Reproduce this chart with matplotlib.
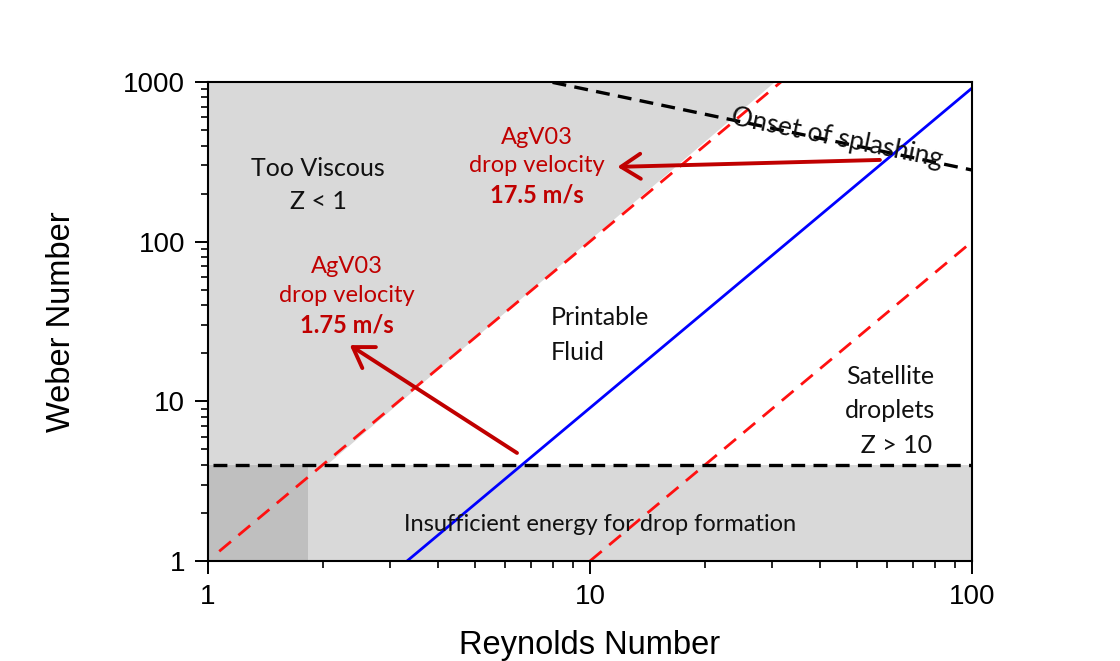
import matplotlib
matplotlib.use("Agg")
import matplotlib.pyplot as plt
from matplotlib.patches import Polygon, Rectangle
from matplotlib.ticker import LogLocator, NullFormatter, FixedLocator, FixedFormatter

# ---------------- data ----------------
# Z = 1 boundary (We = Re^2), red dashed
z1_re = [1.07, 31.6]
z1_we = [1.15, 1000]
# printable boundary, blue solid
blue_re = [3.32, 100]
blue_we = [1.0, 916]
# Z = 10 boundary, red dashed
z10_re = [10, 100]
z10_we = [1.0, 100]
# minimum Weber number for drop formation, black dashed
we_min_re = [1.03, 100]
we_min_we = [4, 4]
# onset of splashing, black dashed
splash_re = [7.0, 100]
splash_we = [1062, 281]

# shaded regions
viscous_re = [1, 2.05, 30.5, 1]
viscous_we = [4, 4, 1000, 1000]
energy_re = [1, 100]
energy_we = [1, 4]
dark_re = [1, 1.83]
dark_we = [1, 4]

# arrows (tail -> head)
arrow1_tail = (6.44, 4.75)
arrow1_head = (2.35, 22.5)
arrow2_tail = (57.4, 325)
arrow2_head = (11.8, 294)

x_ticks = [1, 10, 100]
x_labels = ["1", "10", "100"]
y_ticks = [1, 10, 100, 1000]
y_labels = ["1", "10", "100", "1000"]

# ---------------- figure ----------------
plt.rcParams['lines.scale_dashes'] = False
fig = plt.figure(figsize=(11.2, 6.61), dpi=100)
ax = fig.add_axes([208/1120, 100/661, 764/1120, 479/661])
ax.set_xscale('log')
ax.set_yscale('log')
ax.set_xlim(1, 100)
ax.set_ylim(1, 1000)

light = '#D9D9D9'
dark = '#BFBFBF'
ax.add_patch(Polygon(list(zip(viscous_re, viscous_we)), closed=True,
                     facecolor=light, edgecolor='none', zorder=0))
ax.add_patch(Rectangle((energy_re[0], energy_we[0]), energy_re[1]-energy_re[0],
                       energy_we[1]-energy_we[0], facecolor=light,
                       edgecolor='none', zorder=0))
ax.add_patch(Rectangle((dark_re[0], dark_we[0]), dark_re[1]-dark_re[0],
                       dark_we[1]-dark_we[0], facecolor=dark,
                       edgecolor='none', zorder=0.5))

red = '#FF1010'
dred = '#C00000'
ax.plot(z1_re, z1_we, color=red, lw=2.0, dashes=(11, 7), zorder=2)
ax.plot(z10_re, z10_we, color=red, lw=2.0, dashes=(11, 7), zorder=2)
ax.plot(blue_re, blue_we, color='#0000FF', lw=2.0, zorder=2)
ax.plot(we_min_re, we_min_we, color='black', lw=2.4, dashes=(10, 6), zorder=3)
ax.plot(splash_re, splash_we, color='black', lw=2.4, dashes=(10, 6), zorder=3)

for tail, head in [(arrow1_tail, arrow1_head), (arrow2_tail, arrow2_head)]:
    ax.annotate('', xy=head, xytext=tail,
                arrowprops=dict(arrowstyle='->,head_length=0.7,head_width=0.45',
                                color=dred, lw=2.8, shrinkA=0, shrinkB=0,
                                mutation_scale=20),
                zorder=4)

# ---------------- text ----------------
tfont = 'Lato'
ts = 18
ax.text(1.94, 226, 'Too Viscous\nZ < 1', fontsize=ts, family=tfont,
        ha='center', va='center', linespacing=1.55, color='#111111', zorder=5)
ax.text(7.27, 452, 'AgV03', fontsize=17, family=tfont,
        ha='center', va='center', color=dred, zorder=5)
ax.text(7.27, 298, 'drop velocity', fontsize=17, family=tfont,
        ha='center', va='center', color=dred, zorder=5)
ax.text(7.27, 196, '17.5 m/s', fontsize=17, family=tfont, fontweight='bold',
        ha='center', va='center', color=dred, zorder=5)
ax.text(2.31, 70.4, 'AgV03', fontsize=17, family=tfont,
        ha='center', va='center', color=dred, zorder=5)
ax.text(2.31, 45.7, 'drop velocity', fontsize=17, family=tfont,
        ha='center', va='center', color=dred, zorder=5)
ax.text(2.31, 30.1, '1.75 m/s', fontsize=17, family=tfont, fontweight='bold',
        ha='center', va='center', color=dred, zorder=5)
ax.text(7.9, 26, 'Printable\nFluid', fontsize=ts, family=tfont,
        ha='left', va='center', linespacing=1.6, color='#111111', zorder=5)
ax.text(46.5, 8.7, 'Satellite\ndroplets\n  Z > 10', fontsize=ts, family=tfont,
        ha='left', va='center', linespacing=1.6, color='#111111', zorder=5,
        multialignment='center')
ax.text(10.6, 1.7, 'Insufficient energy for drop formation', fontsize=17,
        family=tfont, ha='center', va='center', color='#111111', zorder=5)
ax.text(23.2, 545, 'Onset of splashing', fontsize=19, family=tfont,
        ha='left', va='baseline', rotation=-11.5, rotation_mode='anchor',
        color='#111111', zorder=5)

# ---------------- axes styling ----------------
afont = 'Liberation Sans'
ax.xaxis.set_major_locator(FixedLocator(x_ticks))
ax.xaxis.set_major_formatter(FixedFormatter(x_labels))
ax.yaxis.set_major_locator(FixedLocator(y_ticks))
ax.yaxis.set_major_formatter(FixedFormatter(y_labels))
ax.xaxis.set_minor_locator(LogLocator(base=10, subs=range(2, 10)))
ax.yaxis.set_minor_locator(LogLocator(base=10, subs=range(2, 10)))
ax.xaxis.set_minor_formatter(NullFormatter())
ax.yaxis.set_minor_formatter(NullFormatter())
ax.tick_params(which='major', direction='out', length=9.5, width=1.4,
               labelsize=20, pad=7, top=False, right=False)
ax.tick_params(which='minor', direction='out', length=5, width=1.2,
               top=False, right=False)
for lab in ax.get_xticklabels() + ax.get_yticklabels():
    lab.set_family(afont)
for s in ax.spines.values():
    s.set_linewidth(1.5)

ax.set_xlabel('Reynolds Number', fontsize=23.5, family=afont)
ax.set_ylabel('Weber Number', fontsize=23.5, family=afont)
ax.xaxis.set_label_coords(0.5, -0.145)
ax.yaxis.set_label_coords(-0.172, 0.5)

fig.savefig('out.png', dpi=100)
